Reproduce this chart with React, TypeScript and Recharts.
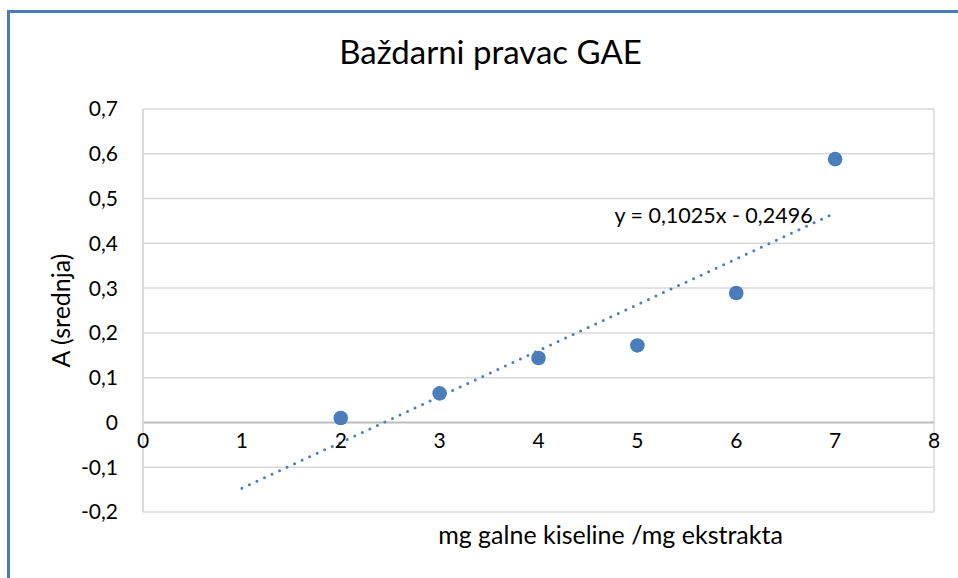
import React from 'react';
import {
  ScatterChart,
  Scatter,
  XAxis,
  YAxis,
  CartesianGrid,
  ReferenceLine,
  ReferenceDot,
} from 'recharts';

// ---- data ----
const concentrations = [2, 3, 4, 5, 6, 7];
const absorbances = [0.01, 0.065, 0.144, 0.172, 0.289, 0.588];

const xTicks = [0, 1, 2, 3, 4, 5, 6, 7, 8];
const yTicks = [-0.2, -0.1, 0, 0.1, 0.2, 0.3, 0.4, 0.5, 0.6, 0.7];

const trendSlope = 0.1025;
const trendIntercept = -0.2496;
const trendRange = [1, 7];
const trendLabel = 'y = 0,1025x - 0,2496';
const trendLabelPos = { x: 5.77, y: 0.463 };

const title = 'Baždarni pravac GAE';
const xTitle = 'mg galne kiseline /mg ekstrakta';
const yTitle = 'A (srednja)';

const points = concentrations.map((x, i) => ({ x, y: absorbances[i] }));
const trendSegment = trendRange.map((x) => ({ x, y: trendSlope * x + trendIntercept }));

const BLUE = '#4A7EBB';
const FONT = 'Lato, "Open Sans", sans-serif';

const fmt = (v: number) => String(Math.round(v * 10) / 10).replace('.', ',');

export default function App() {
  return (
    <div style={{ position: 'absolute', left: 0, top: 0, width: 958, height: 578, background: '#fff' }}>
      <div
        style={{
          position: 'absolute',
          left: 7,
          top: 10,
          width: 951,
          height: 568,
          borderLeft: `3px solid ${BLUE}`,
          borderTop: `3px solid ${BLUE}`,
          boxSizing: 'border-box',
        }}
      />
      <div
        style={{
          position: 'absolute',
          left: 0,
          top: 31,
          width: 981,
          textAlign: 'center',
          fontFamily: FONT,
          fontSize: 33,
          color: '#000',
          lineHeight: '40px',
          whiteSpace: 'nowrap',
        }}
      >
        {title}
      </div>
      <div style={{ position: 'absolute', left: 0, top: 0 }}>
        <ScatterChart
          width={958}
          height={578}
          margin={{ top: 109, right: 24, bottom: 0, left: 43 }}
        >
          <CartesianGrid stroke="#d9d9d9" strokeWidth={1.5} />
          <XAxis
            type="number"
            dataKey="x"
            domain={[0, 8]}
            ticks={xTicks}
            tick={false}
            axisLine={false}
            tickLine={false}
            height={66}
            label={{
              value: xTitle,
              position: 'insideTop',
              dy: 9,
              dx: 72,
              style: { fontFamily: FONT, fontSize: 25, fill: '#000' },
            }}
          />
          <YAxis
            type="number"
            dataKey="y"
            domain={[-0.2, 0.7]}
            ticks={yTicks}
            interval={0}
            width={100}
            axisLine={{ stroke: '#d9d9d9', strokeWidth: 1.5 }}
            tickLine={false}
            tickSize={0}
            tickMargin={25}
            tickFormatter={fmt}
            tick={{ fontFamily: FONT, fontSize: 21, fill: '#000' }}
            label={{
              value: yTitle,
              angle: -90,
              position: 'center',
              dx: -32,
              style: { fontFamily: FONT, fontSize: 25, fill: '#000', textAnchor: 'middle' },
            }}
          />
          <ReferenceLine y={0} stroke="#bfbfbf" strokeWidth={2} />
          {xTicks.map((t) => (
            <ReferenceDot
              key={t}
              x={t}
              y={0}
              r={0}
              fill="none"
              stroke="none"
              label={{
                value: String(t),
                position: 'bottom',
                offset: 11,
                style: { fontFamily: FONT, fontSize: 21, fill: '#000' },
              }}
            />
          ))}
          <ReferenceLine
            segment={trendSegment}
            stroke={BLUE}
            strokeWidth={3}
            strokeDasharray="0 8.3"
            strokeLinecap="round"
          />
          <ReferenceDot
            x={trendLabelPos.x}
            y={trendLabelPos.y}
            r={0}
            fill="none"
            stroke="none"
            label={{
              value: trendLabel,
              position: 'center',
              style: { fontFamily: FONT, fontSize: 21.5, fill: '#000' },
            }}
          />
          <Scatter
            data={points}
            fill={BLUE}
            isAnimationActive={false}
            shape={(p: any) => <circle cx={p.cx} cy={p.cy} r={7.3} fill={BLUE} />}
          />
        </ScatterChart>
      </div>
    </div>
  );
}
